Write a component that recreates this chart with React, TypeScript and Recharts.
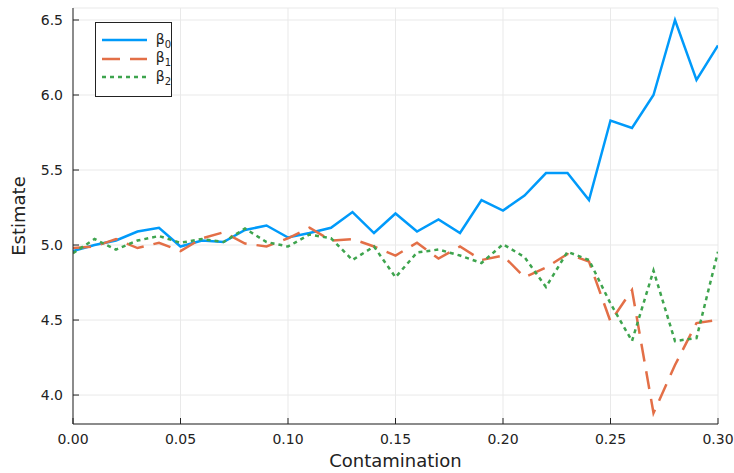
import React from "react";
import { LineChart, Line, XAxis, YAxis, CartesianGrid } from "recharts";

const contamination = [
  0, 0.01, 0.02, 0.03, 0.04, 0.05, 0.06, 0.07, 0.08, 0.09, 0.1, 0.11, 0.12, 0.13, 0.14, 0.15,
  0.16, 0.17, 0.18, 0.19, 0.2, 0.21, 0.22, 0.23, 0.24, 0.25, 0.26, 0.27, 0.28, 0.29, 0.3,
];
const beta0 = [
  4.96, 5.0, 5.03, 5.09, 5.115, 4.99, 5.03, 5.02, 5.1, 5.13, 5.05, 5.08, 5.115, 5.22, 5.08, 5.21,
  5.09, 5.17, 5.08, 5.3, 5.23, 5.33, 5.48, 5.48, 5.3, 5.83, 5.78, 6.0, 6.5, 6.1, 6.33,
];
const beta1 = [
  4.98, 4.99, 5.04, 4.98, 5.015, 4.96, 5.045, 5.085, 5.01, 4.99, 5.045, 5.115, 5.03, 5.04, 4.99, 4.93,
  5.015, 4.91, 4.99, 4.9, 4.93, 4.785, 4.85, 4.94, 4.89, 4.49, 4.7, 3.88, 4.2, 4.48, 4.5,
];
const beta2 = [
  4.945, 5.04, 4.97, 5.03, 5.06, 5.015, 5.04, 5.02, 5.11, 5.02, 4.99, 5.07, 5.045, 4.9, 4.99, 4.785,
  4.95, 4.97, 4.93, 4.88, 5.005, 4.92, 4.72, 4.955, 4.9, 4.61, 4.36, 4.83, 4.36, 4.38, 4.955,
];
const xTicks = [0, 0.05, 0.1, 0.15, 0.2, 0.25, 0.3];
const yTicks = [4.0, 4.5, 5.0, 5.5, 6.0, 6.5];

const data = contamination.map((c, i) => ({ c, b0: beta0[i], b1: beta1[i], b2: beta2[i] }));

const FONT = "'DejaVu Sans', sans-serif";
const BLUE = "#009AFA";
const ORANGE = "#E36F47";
const GREEN = "#3EA44E";

const series = [
  { key: "b0", sub: "0", color: BLUE, dash: undefined },
  { key: "b1", sub: "1", color: ORANGE, dash: "18 10" },
  { key: "b2", sub: "2", color: GREEN, dash: "4 4" },
];

const XTick = ({ x, y, payload }: any) => (
  <g>
    <line x1={x} x2={x} y1={y} y2={y - 6} stroke="#222" strokeWidth={1} />
    <text x={x} y={y + 20} textAnchor="middle" fontFamily={FONT} fontSize={14} fill="#222">
      {payload.value.toFixed(2)}
    </text>
  </g>
);

const YTick = ({ x, y, payload }: any) => (
  <g>
    <line x1={x} x2={x + 6} y1={y} y2={y} stroke="#222" strokeWidth={1} />
    <text x={x - 10} y={y + 5} textAnchor="end" fontFamily={FONT} fontSize={14} fill="#222">
      {payload.value.toFixed(1)}
    </text>
  </g>
);

const YTitle = ({ viewBox }: any) => {
  const cy = viewBox.y + viewBox.height / 2;
  return (
    <text
      x={25}
      y={cy}
      transform={`rotate(-90 25 ${cy})`}
      textAnchor="middle"
      fontFamily={FONT}
      fontSize={18}
      fill="#222"
    >
      Estimate
    </text>
  );
};

const XTitle = ({ viewBox }: any) => (
  <text
    x={viewBox.x + viewBox.width / 2}
    y={467}
    textAnchor="middle"
    fontFamily={FONT}
    fontSize={18}
    fill="#222"
  >
    Contamination
  </text>
);

const LegendBox = () => (
  <div
    style={{
      position: "absolute",
      left: 95,
      top: 22,
      border: "1px solid #222",
      background: "#fff",
      width: 77,
      height: 75,
      boxSizing: "border-box",
      fontFamily: FONT,
      fontSize: 14,
      color: "#222",
      paddingTop: 8,
    }}
  >
    {series.map((s) => (
      <div key={s.key} style={{ display: "flex", alignItems: "center", height: 18.5 }}>
        <svg width={54} height={8} style={{ marginLeft: 6 }}>
          <line x1={0} x2={45} y1={4} y2={4} stroke={s.color} strokeWidth={2.5} strokeDasharray={s.dash} />
        </svg>
        <span>
          β<sub style={{ fontSize: 10 }}>{s.sub}</sub>
        </span>
      </div>
    ))}
  </div>
);

export default function App() {
  return (
    <div style={{ position: "absolute", left: 0, top: 0, width: 734, height: 473, background: "#fff" }}>
      <LineChart width={734} height={473} data={data} margin={{ top: 8, right: 16, bottom: 0, left: 0 }}>
        <CartesianGrid stroke="#e9e9e9" strokeWidth={1} />
        <XAxis
          dataKey="c"
          type="number"
          domain={[0, 0.3]}
          ticks={xTicks}
          height={49}
          tickSize={0}
          tickMargin={0}
          tick={<XTick />}
          stroke="#222"
          label={<XTitle />}
          interval={0}
          allowDataOverflow
        />
        <YAxis
          type="number"
          domain={[3.807, 6.58]}
          ticks={yTicks}
          width={73}
          tickSize={0}
          tickMargin={0}
          tick={<YTick />}
          stroke="#222"
          label={<YTitle />}
          interval={0}
          allowDataOverflow
        />
        {series.map((s) => (
          <Line
            key={s.key}
            dataKey={s.key}
            type="linear"
            stroke={s.color}
            strokeWidth={2.5}
            strokeDasharray={s.dash}
            dot={false}
            activeDot={false}
            isAnimationActive={false}
          />
        ))}
      </LineChart>
      <LegendBox />
    </div>
  );
}
